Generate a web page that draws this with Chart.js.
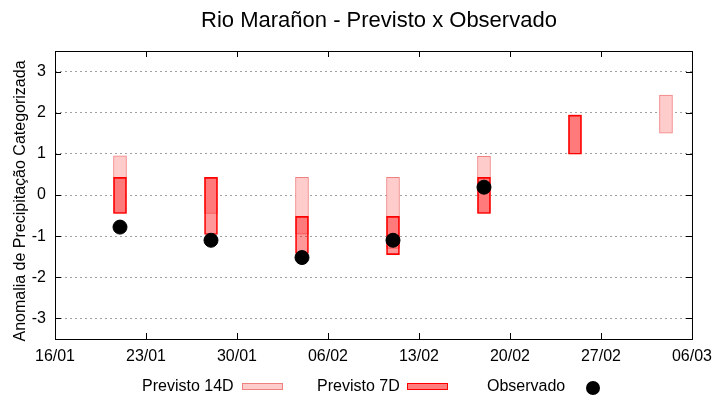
<!DOCTYPE html>
<html lang="pt-br">
<head>
<meta charset="utf-8">
<title>Rio Marañon - Previsto x Observado</title>
<script src="https://cdn.jsdelivr.net/npm/chart.js"></script>
<style>
  body { margin: 0; background: #fff; font-family: "Liberation Sans", Arial, sans-serif; }
  #wrap { position: relative; width: 720px; height: 400px; }
  #titulo { position: absolute; left: 179px; width: 400px; top: 7px; line-height: 26px; text-align: center; font-size: 22px; color: #000; }
  #tituloY { position: absolute; left: 20px; top: 201px; width: 320px; margin-left: -160px; line-height: 20px; margin-top: -10px;
             text-align: center; font-size: 16px; color: #000; transform: rotate(-90deg); white-space: nowrap; }
  #legenda { position: absolute; left: 0; top: 376px; width: 720px; height: 20px; font-size: 16px; color: #000; }
  #legenda span { position: absolute; top: 0; line-height: 20px; }
  .caixa { height: 5px; top: 7px !important; }
  .ponto { width: 14px; height: 14px; border-radius: 50%; background: #000; top: 5px !important; }
</style>
</head>
<body>
<div id="wrap">
  <canvas id="grafico" width="720" height="400"></canvas>
  <div id="titulo">Rio Marañon - Previsto x Observado</div>
  <div id="tituloY">Anomalia de Precipitação Categorizada</div>
  <div id="legenda">
    <span style="left:142px">Previsto 14D</span>
    <span class="caixa" style="left:242px;width:39px;background:#ffcccc;border:1px solid #f08080"></span>
    <span style="left:317px">Previsto 7D</span>
    <span class="caixa" style="left:407px;width:39px;background:rgba(255,0,0,0.5);border:1px solid #ff0000"></span>
    <span style="left:487px">Observado</span>
    <span class="ponto" style="left:586px"></span>
  </div>
</div>
<script>
  // eixo x em dias desde 16/01
  const ticksX = ['16/01', '23/01', '30/01', '06/02', '13/02', '20/02', '27/02', '06/03'];
  const ticksY = [-3, -2, -1, 0, 1, 2, 3];

  const dias14D = [5, 12, 19, 26, 33, 40, 47];
  const min14D = [-0.45, -0.45, -0.95, -1.30, -0.45, 1.00, 1.50];
  const max14D = [0.95, 0.43, 0.43, 0.43, 0.94, 1.95, 2.43];

  const dias7D = [5, 12, 19, 26, 33, 40];
  const min7D = [-0.45, -0.96, -1.42, -1.45, -0.45, 0.99];
  const max7D = [0.43, 0.43, -0.52, -0.52, 0.43, 1.94];

  const diasObs = [5, 12, 19, 26, 33];
  const observado = [-0.78, -1.10, -1.52, -1.10, 0.19];

  const fonte = "'Liberation Sans', Arial, sans-serif";

  // borda do grafico e tiques para dentro (estilo gnuplot)
  const bordaPlugin = {
    id: 'borda',
    afterDatasetsDraw(chart) {
      const { ctx, chartArea: a, scales } = chart;
      ctx.save();
      ctx.strokeStyle = '#000';
      ctx.lineWidth = 1;
      ctx.strokeRect(a.left + 0.5, a.top + 0.5, a.right - a.left, a.bottom - a.top);
      ctx.beginPath();
      ticksY.forEach(v => {
        const y = Math.round(scales.y.getPixelForValue(v)) + 0.5;
        ctx.moveTo(a.left, y); ctx.lineTo(a.left + 6, y);
        ctx.moveTo(a.right, y); ctx.lineTo(a.right - 6, y);
      });
      ticksX.forEach((t, i) => {
        const x = Math.round(scales.x.getPixelForValue(i * 7)) + 0.5;
        ctx.moveTo(x, a.bottom); ctx.lineTo(x, a.bottom - 6);
        ctx.moveTo(x, a.top); ctx.lineTo(x, a.top + 6);
      });
      ctx.stroke();
      ctx.restore();
    }
  };

  new Chart(document.getElementById('grafico'), {
    type: 'bar',
    data: {
      datasets: [
        {
          type: 'scatter',
          label: 'Observado',
          data: diasObs.map((d, i) => ({ x: d, y: observado[i] })),
          backgroundColor: '#000',
          borderColor: '#000',
          pointRadius: 7,
          order: 0
        },
        {
          label: 'Previsto 7D',
          data: dias7D.map((d, i) => ({ x: d, y: [min7D[i], max7D[i]] })),
          backgroundColor: 'rgba(255,0,0,0.4)',
          borderColor: '#ff0000',
          borderWidth: 1,
          borderSkipped: false,
          barThickness: 13,
          grouped: false,
          order: 1
        },
        {
          label: 'Previsto 14D',
          data: dias14D.map((d, i) => ({ x: d, y: [min14D[i], max14D[i]] })),
          backgroundColor: '#ffcccc',
          borderColor: '#f08080',
          borderWidth: 1,
          borderSkipped: false,
          barThickness: 13,
          grouped: false,
          order: 2
        }
      ]
    },
    options: {
      responsive: false,
      animation: false,
      layout: { padding: { left: 0, right: 28, top: 51, bottom: 0 } },
      plugins: {
        legend: { display: false },
        tooltip: { enabled: false },
        title: { display: false }
      },
      scales: {
        x: {
          type: 'linear',
          min: 0,
          max: 49,
          offset: false,
          afterBuildTicks: s => { s.ticks = ticksX.map((t, i) => ({ value: i * 7 })); },
          afterFit: s => { s.height = 61; },
          ticks: {
            color: '#000',
            padding: 8,
            maxRotation: 0,
            font: { family: fonte, size: 16 },
            callback: v => ticksX[v / 7]
          },
          grid: { display: false, drawTicks: false },
          border: { display: false }
        },
        y: {
          min: -3.5,
          max: 3.5,
          afterBuildTicks: s => { s.ticks = ticksY.map(v => ({ value: v })); },
          afterFit: s => { s.width = 55; },
          ticks: {
            color: '#000',
            padding: 9,
            font: { family: fonte, size: 16 }
          },
          grid: {
            color: '#a0a0a0',
            lineWidth: 1,
            drawTicks: false
          },
          border: { display: false, dash: [2, 3] },
          title: { display: false }
        }
      }
    },
    plugins: [bordaPlugin]
  });
</script>
</body>
</html>
